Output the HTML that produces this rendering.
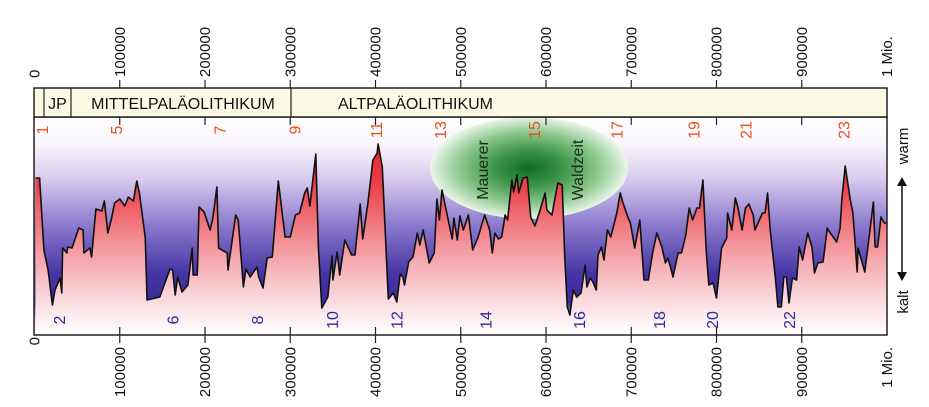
<!DOCTYPE html>
<html><head><meta charset="utf-8"><style>
html,body{margin:0;padding:0;background:#fff;overflow:hidden;}
svg{display:block;font-family:"Liberation Sans","DejaVu Sans",sans-serif;}
</style></head><body>
<svg id="chart" width="929" height="407" viewBox="0 0 929 407">
<defs>
<linearGradient id="bgGrad" x1="0" y1="117" x2="0" y2="335" gradientUnits="userSpaceOnUse">
<stop offset="0" stop-color="#ffffff"/>
<stop offset="0.12" stop-color="#faf6fd"/>
<stop offset="0.28" stop-color="#d9ccef"/>
<stop offset="0.5" stop-color="#8a78cc"/>
<stop offset="0.72" stop-color="#4634a4"/>
<stop offset="0.85" stop-color="#3a2c98"/>
<stop offset="0.93" stop-color="#c8c0e8"/>
<stop offset="1" stop-color="#ffffff"/>
</linearGradient>
<linearGradient id="redGrad" x1="0" y1="117" x2="0" y2="335" gradientUnits="userSpaceOnUse">
<stop offset="0" stop-color="#e8101a"/>
<stop offset="0.3" stop-color="#ec3c44"/>
<stop offset="0.55" stop-color="#f28a90"/>
<stop offset="0.8" stop-color="#f8d0d6"/>
<stop offset="1" stop-color="#ffffff"/>
</linearGradient>
<radialGradient id="greenGrad" cx="0.5" cy="0.5" r="0.5">
<stop offset="0" stop-color="#0c6e1e"/>
<stop offset="0.35" stop-color="#3e9448"/>
<stop offset="0.7" stop-color="#8cc88e"/>
<stop offset="1" stop-color="#eaf6e8"/>
</radialGradient>
</defs>
<rect x="34" y="117" width="853" height="218" fill="url(#bgGrad)"/>
<ellipse cx="529" cy="168" rx="99" ry="51" fill="url(#greenGrad)"/>
<g id="series"></g>
<text transform="translate(488,170) rotate(-90)" text-anchor="middle" font-size="16" fill="#1a2a1a">Mauerer</text>
<text transform="translate(583,170) rotate(-90)" text-anchor="middle" font-size="16" fill="#1a2a1a">Waldzeit</text>
<rect x="34" y="117" width="853" height="218" fill="none" stroke="#222" stroke-width="1.5"/>
<g>
<rect x="34" y="88" width="853" height="29" fill="#fdfae3" stroke="#222" stroke-width="1.5"/>
<line x1="44" y1="88" x2="44" y2="117" stroke="#222" stroke-width="1.2"/>
<line x1="71" y1="88" x2="71" y2="117" stroke="#222" stroke-width="1.2"/>
<line x1="291" y1="88" x2="291" y2="117" stroke="#222" stroke-width="1.2"/>
<text x="57.5" y="109" text-anchor="middle" font-size="16" fill="#111">JP</text>
<text x="183" y="109" text-anchor="middle" font-size="16" fill="#111">MITTELPALÄOLITHIKUM</text>
<text x="338" y="109" font-size="16" fill="#111">ALTPALÄOLITHIKUM</text>
</g>
<g id="axes"></g>
<g id="stages"></g>
<g>
<text transform="translate(908,146) rotate(-90)" text-anchor="middle" font-size="15" fill="#111">warm</text>
<line x1="902" y1="182" x2="902" y2="276" stroke="#111" stroke-width="1.5"/>
<path d="M897,186 L902,177 L907,186 Z" fill="#111"/>
<path d="M897,272 L902,281 L907,272 Z" fill="#111"/>
<text transform="translate(908,302) rotate(-90)" text-anchor="middle" font-size="15" fill="#111">kalt</text>
</g>
</svg>
<script>
// age in thousand years (ka)
const ages = [1,6,11,16,21,24,30,32,33,38,39,44,48,52,57,58,65,67,72,79,82,86,90,94,100,106,110,116,120,123,130,132,147,159,162,165,168,173,180,185,186,191,193,199,206,209,214,216,226,227,236,239,245,248,253,261,263,268,273,279,286,294,300,306,311,317,320,323,330,333,337,344,349,350,355,358,364,372,376,382,385,391,397,402,403,408,415,421,425,429,432,434,439,444,449,452,456,463,469,472,475,478,485,490,492,496,499,503,509,514,519,520,528,534,537,540,544,548,552,555,560,562,566,568,573,578,582,587,592,599,601,607,609,614,619,622,625,628,632,636,641,646,648,652,655,659,661,665,668,672,676,683,687,690,696,699,704,710,715,720,725,730,736,740,743,746,749,755,759,764,768,772,777,780,784,788,791,796,800,806,812,813,818,822,825,830,834,838,843,845,854,857,860,863,869,872,876,879,882,885,889,894,897,901,907,912,915,919,925,930,931,941,945,947,951,957,960,965,966,974,984,986,989,993,997,1000];
// relative warmth index (0 = coldest edge of frame, 218 = warmest)
const warmth = [157,157,85,65,30,45,57,42,87,82,88,87,97,107,105,82,87,78,126,124,134,102,115,132,136,129,138,134,154,142,97,35,38,66,65,40,58,43,50,87,60,60,128,123,105,116,148,87,82,65,120,115,48,66,58,68,58,47,77,78,154,98,98,120,122,142,147,129,181,88,27,38,79,55,83,60,95,80,80,131,96,131,175,182,191,168,36,42,33,61,58,50,73,78,102,90,105,72,82,136,115,145,116,96,117,95,119,105,120,85,95,97,120,105,82,102,96,98,120,115,155,143,160,142,157,158,118,109,122,142,125,120,130,152,150,77,28,20,45,38,42,70,48,57,53,45,80,88,75,105,98,122,142,133,118,112,87,115,55,55,82,102,88,72,77,68,58,82,82,100,127,115,127,127,155,83,50,52,37,87,97,122,105,137,128,105,127,131,120,105,122,122,142,105,58,28,28,58,58,32,57,55,88,75,102,88,62,72,73,107,105,93,107,135,169,135,122,63,87,63,133,88,88,118,112,112,113];
const oddStages = ["1","5","7","9","11","13","15","17","19","21","23"];
const oddStageAges = [10,97,218,306,402,477,587,684,774,835,950];
const evenStages = ["2","6","8","10","12","14","16","18","20","22"];
const evenStageAges = [30,163,262,350,426,530,640,734,796,886];
const tickValues = [0,100000,200000,300000,400000,500000,600000,700000,800000,900000,1000000];
const tickLabels = ["0","100000","200000","300000","400000","500000","600000","700000","800000","900000","1 Mio."];

const NS = "http://www.w3.org/2000/svg";
const X0 = 34.5, X1 = 887, YB = 335, YT = 117;
function xScale(ka){ return X0 + (ka/1000)*(X1-X0); }
function yScale(v){ return YB - v/218*(YB-YT); }
function mk(tag, attrs, parent){ const e=document.createElementNS(NS,tag); for(const k in attrs) e.setAttribute(k, attrs[k]); parent.appendChild(e); return e; }

const series = document.getElementById('series');
let pts = ages.map((a,i)=>xScale(a).toFixed(1)+","+yScale(warmth[i]).toFixed(1));
let areaD = "M"+xScale(ages[0]).toFixed(1)+","+YB+" L"+pts.join(" L")+" L"+xScale(ages[ages.length-1]).toFixed(1)+","+YB+" Z";
const area = mk('path',{d:areaD, fill:'url(#redGrad)'},series);


const line = mk('path',{d:"M"+pts.join(" L"), fill:'none', stroke:'#111', 'stroke-width':1.6, 'stroke-linejoin':'round'},series);



const axes = document.getElementById('axes');
tickValues.forEach((v,i)=>{
  const x = xScale(v/1000);
  if(i>0 && i<tickValues.length-1){
    mk('line',{x1:x,y1:80,x2:x,y2:88,stroke:'#222','stroke-width':1.2},axes);
    mk('line',{x1:x,y1:117,x2:x,y2:125,stroke:'#222','stroke-width':1.2},axes);
    mk('line',{x1:x,y1:327,x2:x,y2:343,stroke:'#222','stroke-width':1.2},axes);
  }
  const t1 = mk('text',{transform:`translate(${x+5},${i==0?78:77}) rotate(-90)`,'text-anchor':'start','font-size':15,fill:'#111'},axes);
  t1.textContent = tickLabels[i];
  
  
  const t2 = mk('text',{transform:`translate(${x+5},${i==0?337:347}) rotate(-90)`,'text-anchor':'end','font-size':15,fill:'#111'},axes);
  t2.textContent = tickLabels[i];
  
  
});

const stages = document.getElementById('stages');
oddStages.forEach((s,i)=>{
  const t = mk('text',{transform:`translate(${xScale(oddStageAges[i])+5},130) rotate(-90)`,'text-anchor':'middle','font-size':16,fill:'#e8501a'},stages);
  t.textContent = s;
  
  
});
evenStages.forEach((s,i)=>{
  const t = mk('text',{transform:`translate(${xScale(evenStageAges[i])+5},320) rotate(-90)`,'text-anchor':'middle','font-size':16,fill:'#2a2a9a'},stages);
  t.textContent = s;
  
  
});
</script>
</body></html>
